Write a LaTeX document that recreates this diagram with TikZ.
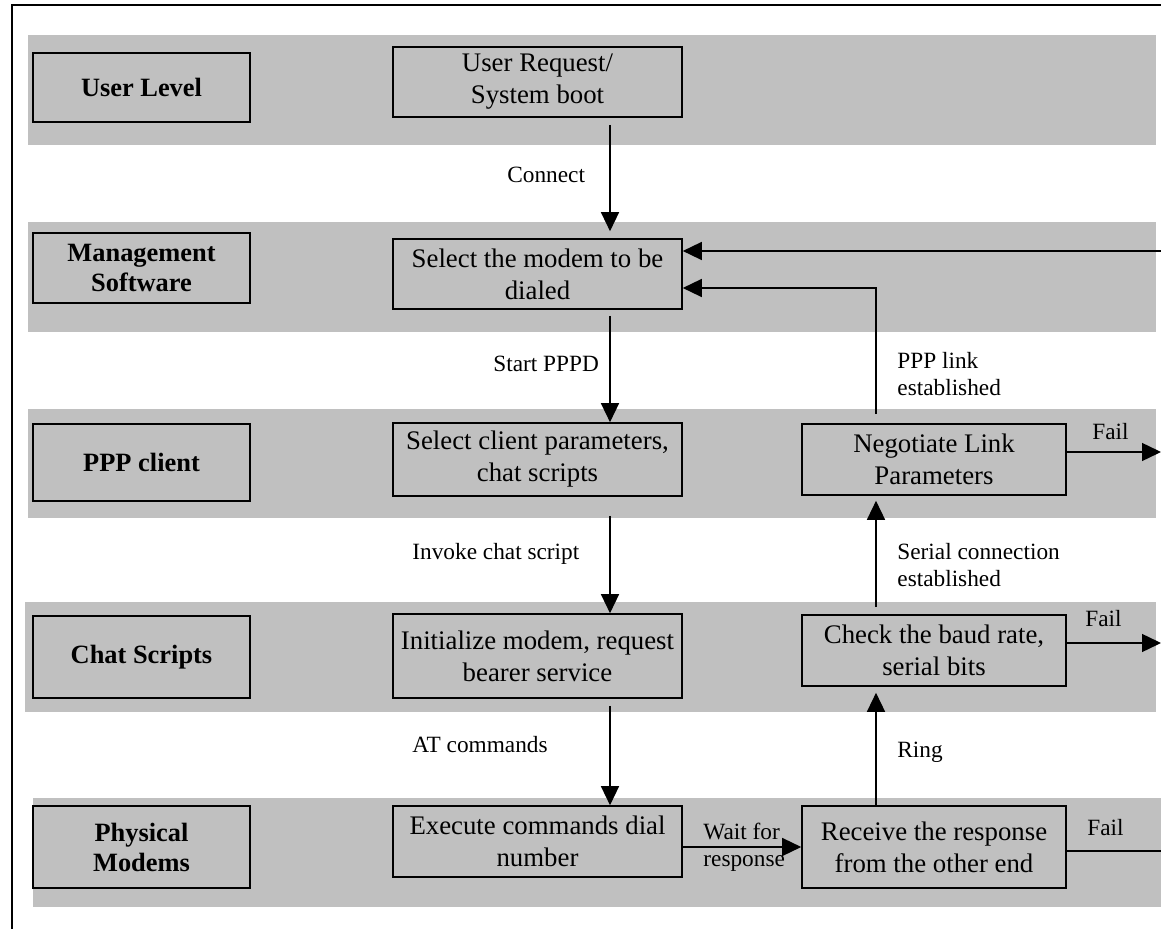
\documentclass[tikz,border=0pt]{standalone}
\usepackage{fontspec}
\setmainfont{Liberation Serif}
\usetikzlibrary{arrows.meta}
\definecolor{bandgray}{RGB}{192,192,192}
\begin{document}
\begin{tikzpicture}[x=0.5pt,y=-0.5pt,
  band/.style={fill=bandgray, draw=none},
  lvlbox/.style={draw, line width=0.85pt, minimum width=108.5pt, inner sep=0pt,
    align=center, font=\fontsize{13.2}{15}\selectfont\bfseries},
  stepbox/.style={draw, line width=0.8pt, inner sep=0pt, align=center,
    font=\fontsize{13.4}{16}\selectfont},
  lbl/.style={inner sep=0pt, align=left, font=\fontsize{11.65}{13.5}\selectfont},
  flow/.style={line width=0.7pt, -{Triangle[length=9.5pt,width=9pt]}},
  wire/.style={line width=0.7pt}]
\useasboundingbox (0,0) rectangle (1161,929);

% outer frame (open on the right and at the bottom)
\draw[line width=1pt] (12,929) -- (12,5) -- (1161,5);

% layer bands
\fill[band] (28,35)   rectangle (1156,145);
\fill[band] (28,222)  rectangle (1156,332);
\fill[band] (28,409)  rectangle (1156,518);
\fill[band] (25,602)  rectangle (1156,712);
\fill[band] (33,798)  rectangle (1161,907);

% layer names
\node[lvlbox, minimum height=34.5pt] (ulev) at (141.5,87.5) {User Level};
\node[lvlbox, minimum height=35pt]   (mgmt) at (141.5,268)  {Management\\Software};
\node[lvlbox, minimum height=38.5pt] (pppc) at (141.5,462.5) {PPP client};
\node[lvlbox, minimum height=41pt]   (chat) at (141.5,657)  {Chat Scripts};
\node[lvlbox, minimum height=41pt]   (phys) at (141.5,847)  {Physical\\Modems};

% steps
\node[stepbox, minimum width=144.5pt, minimum height=35pt]   (ureq) at (537.5,82)    {User Request/\\System boot};
\node[stepbox, minimum width=144.5pt, minimum height=35pt]   (selm) at (537.5,274)   {Select the modem to be\\dialed};
\node[stepbox, minimum width=144.5pt, minimum height=36.5pt] (selc) at (537.5,459.5) {Select client parameters,\\chat scripts};
\node[stepbox, minimum width=132pt,   minimum height=35.5pt] (nego) at (934,459.5)   {Negotiate Link\\Parameters};
\node[stepbox, minimum width=144.5pt, minimum height=42pt]   (init) at (537.5,656)   {Initialize modem, request\\bearer service};
\node[stepbox, minimum width=132pt,   minimum height=35.5pt] (chk)  at (934,650.5)   {Check the baud rate,\\serial bits};
\node[stepbox, minimum width=144.5pt, minimum height=35.5pt] (exec) at (537.5,841.5) {Execute commands dial\\number};
\node[stepbox, minimum width=132pt,   minimum height=41pt]   (recv) at (934,847)     {Receive the response\\from the other end};

% connector labels
\node[lbl, anchor=base west] (tconn) at (507,183) {Connect};
\node[lbl, anchor=base west] (tpppd) at (493,372) {Start PPPD};
\node[lbl, anchor=base west] (tchat) at (412,560) {Invoke chat script};
\node[lbl, anchor=base west] (tat)   at (412,752) {AT commands};
\node[lbl, anchor=west] (tlink) at (897,374) {PPP link\\established};
\node[lbl, anchor=west] (tser)  at (897,565) {Serial connection\\established};
\node[lbl, anchor=base west] (tring) at (897,757) {Ring};
\node[lbl, anchor=west] (twait) at (703,847) {Wait for\\response};
\node[lbl, anchor=base west] (tf1) at (1092,440) {Fail};
\node[lbl, anchor=base west] (tf2) at (1085,627) {Fail};
\node[lbl, anchor=base west] (tf3) at (1087,835) {Fail};

% connector columns and the open right edge
\coordinate (colA) at (610,0);
\coordinate (colB) at (876,0);
\coordinate (edge) at (1161,0);

% outgoing path (left column)
\draw[flow, shorten <=3.5pt, shorten >=3.5pt] (ureq.south -| colA) -- (selm.north -| colA);
\draw[flow, shorten <=3pt] (selm.south -| colA) -- (selc.north -| colA);
\draw[flow, shorten <=9.5pt] (selc.south -| colA) -- (init.north -| colA);
\draw[flow, shorten <=3.5pt] (init.south -| colA) -- (exec.north -| colA);
\draw[flow] (exec.east |- recv.west) -- (recv.west);

% returning path (right column)
\draw[flow, shorten >=3pt] (recv.north -| colB) -- (chk.south -| colB);
\draw[flow, shorten <=3.5pt, shorten >=2.5pt] (chk.north -| colB) -- (nego.south -| colB);
\coordinate (retA) at ([yshift=11.5pt]selm.east);
\coordinate (retB) at ([yshift=-7pt]selm.east);
\draw[flow, shorten <=4.5pt] (nego.north -| colB) |- (retB);
\draw[flow] (retA -| edge) -- (retA);

% failure exits
\coordinate (f1) at ([yshift=3.75pt]nego.east);
\coordinate (f2) at ([yshift=3.75pt]chk.east);
\coordinate (f3) at ([yshift=-2pt]recv.east);
\draw[flow] (f1) -- (f1 -| edge);
\draw[flow] (f2) -- (f2 -| edge);
\draw[wire] (f3) -- (f3 -| edge);
\end{tikzpicture}
\end{document}
